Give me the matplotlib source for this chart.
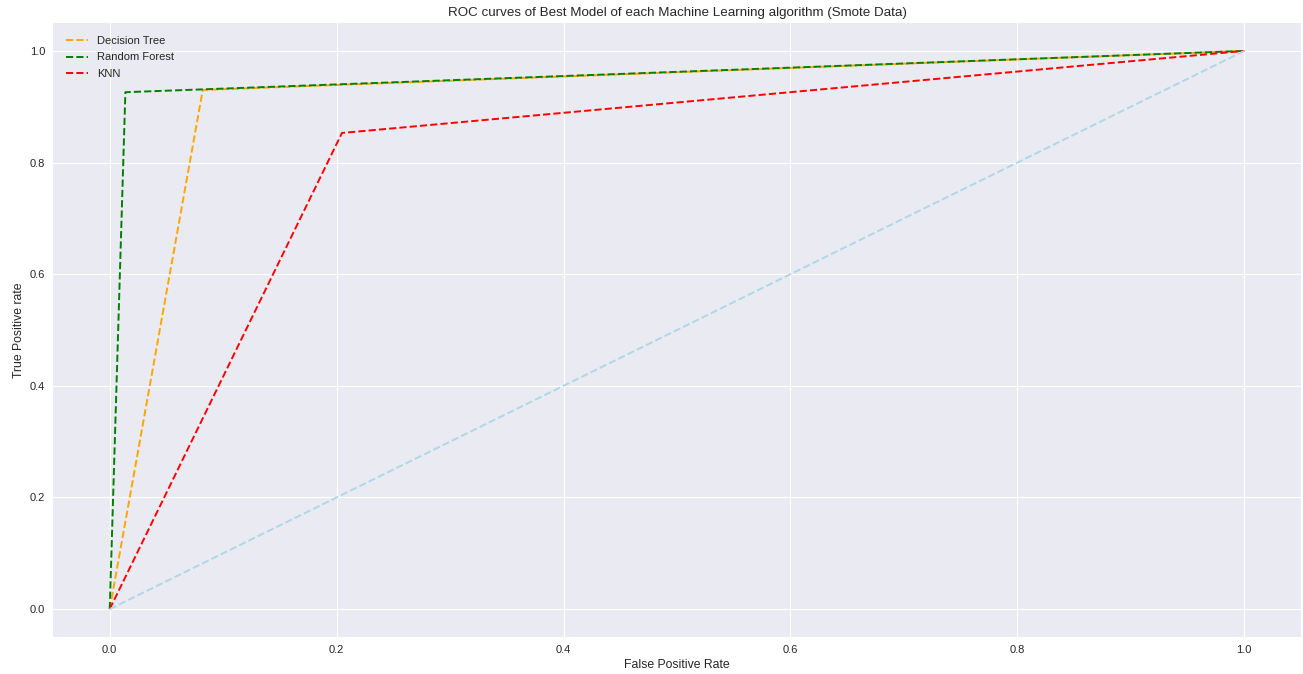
import numpy as np
import matplotlib
matplotlib.use("Agg")
import matplotlib.pyplot as plt

# ROC points
dt_fpr = [0.0, 0.082, 1.0]
dt_tpr = [0.0, 0.930, 1.0]
rf_fpr = [0.0, 0.0138, 1.0]
rf_tpr = [0.0, 0.926, 1.0]
knn_fpr = [0.0, 0.2047, 1.0]
knn_tpr = [0.0, 0.853, 1.0]
p_fpr = [0.0, 1.0]
p_tpr = [0.0, 1.0]

plt.style.use("seaborn-v0_8")
plt.rcParams["font.family"] = ["Liberation Sans", "DejaVu Sans"]

fig = plt.figure(figsize=(1303 / 80, 674 / 80), dpi=80)
ax = fig.add_axes([53 / 1303, 1 - 637 / 674, (1301 - 53) / 1303, (637 - 23) / 674])

ax.plot(dt_fpr, dt_tpr, linestyle="--", color="orange", label="Decision Tree")
ax.plot(rf_fpr, rf_tpr, linestyle="--", color="green", label="Random Forest")
ax.plot(knn_fpr, knn_tpr, linestyle="--", color="red", label="KNN")
ax.plot(p_fpr, p_tpr, linestyle="--", color="lightblue")

ax.set_title("ROC curves of Best Model of each Machine Learning algorithm (Smote Data)")
ax.set_xlabel("False Positive Rate")
ax.set_ylabel("True Positive rate")
ax.legend(loc="upper left", labelspacing=0.6, borderaxespad=0.75)

fig.savefig("out.png", dpi=80)
